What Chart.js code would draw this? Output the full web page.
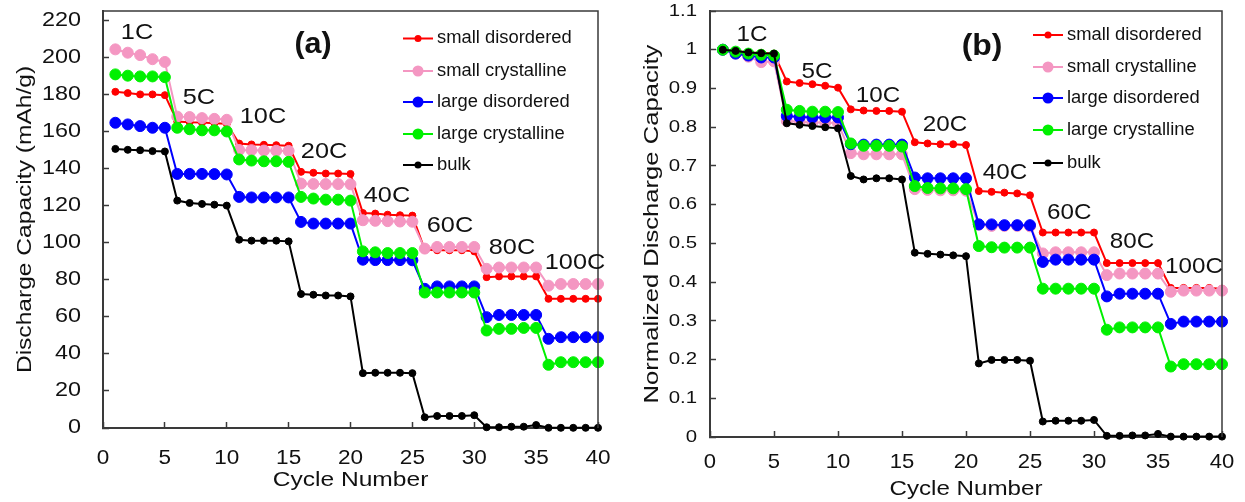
<!DOCTYPE html>
<html>
<head>
<meta charset="utf-8">
<script src="https://cdn.jsdelivr.net/npm/chart.js@4.4.1/dist/chart.umd.min.js"></script>
<style>
    html, body { margin: 0; padding: 0; background: #fff; }
    #wrap { position: relative; width: 1245px; height: 502px; overflow: hidden; }
    #capacityChart { position: absolute; left: 0; top: 0; }
    #normalizedChart { position: absolute; left: 620px; top: 0; }
</style>
</head>
<body>
<div id="wrap">
    <canvas id="capacityChart" width="620" height="502"></canvas>
    <canvas id="normalizedChart" width="625" height="502"></canvas>
</div>
<script>
// Cycle numbers (5 cycles per rate)
const cycles = [1, 2, 3, 4, 5, 6, 7, 8, 9, 10, 11, 12, 13, 14, 15, 16, 17, 18, 19, 20,
    21, 22, 23, 24, 25, 26, 27, 28, 29, 30, 31, 32, 33, 34, 35, 36, 37, 38, 39, 40];
const rateLabels = ['1C', '5C', '10C', '20C', '40C', '60C', '80C', '100C'];
const seriesNames = ['small disordered', 'small crystalline', 'large disordered', 'large crystalline', 'bulk'];

// Discharge capacity (mAh/g)
const smallDisordered = [181.4, 180.7, 180.0, 180.0, 179.6, 165.4, 165.0, 164.8, 164.5, 164.2,
    153.5, 153.0, 152.8, 152.6, 152.3, 138.2, 137.7, 137.3, 137.3, 137.1,
    116.0, 115.7, 115.1, 114.8, 114.6, 96.2, 95.9, 95.9, 95.9, 95.3,
    81.4, 81.8, 81.8, 81.8, 81.8, 69.7, 69.7, 69.7, 69.7, 69.7];
const smallCrystalline = [204.3, 202.5, 201.2, 199.0, 197.5, 168.0, 167.8, 167.2, 166.8, 166.3,
    150.0, 149.9, 149.7, 149.6, 149.5, 131.9, 131.7, 131.6, 131.6, 131.5,
    112.1, 111.8, 111.6, 111.4, 111.3, 96.8, 97.7, 97.7, 97.7, 97.7,
    85.9, 86.6, 86.6, 86.6, 86.6, 76.8, 77.7, 77.7, 77.7, 77.7];
const largeDisordered = [164.7, 163.8, 162.9, 162.0, 162.0, 137.1, 137.1, 137.1, 137.0, 136.8,
    124.7, 124.4, 124.4, 124.4, 124.4, 111.2, 110.3, 110.3, 110.3, 110.3,
    90.8, 90.6, 90.6, 90.6, 90.5, 75.1, 76.4, 76.4, 76.4, 76.4,
    59.8, 61.0, 61.0, 61.0, 61.0, 48.1, 49.0, 49.0, 49.0, 49.0];
const largeCrystalline = [190.8, 190.1, 189.7, 189.7, 189.3, 162.0, 161.2, 160.6, 160.6, 160.0,
    144.9, 144.3, 143.9, 143.9, 143.6, 124.7, 123.8, 123.2, 123.2, 122.7,
    95.3, 94.8, 94.4, 94.4, 94.4, 73.1, 73.1, 73.1, 73.1, 73.1,
    52.6, 53.5, 53.5, 54.0, 54.0, 34.1, 35.5, 35.5, 35.5, 35.5];
const bulk = [150.6, 150.1, 149.9, 149.4, 149.2, 122.7, 121.4, 120.9, 120.5, 120.0,
    101.6, 101.1, 101.1, 101.1, 100.7, 72.3, 71.9, 71.5, 71.5, 71.0,
    29.6, 29.8, 29.8, 29.8, 29.6, 5.8, 6.5, 6.5, 6.5, 6.9,
    0.4, 0.4, 0.7, 0.7, 1.6, 0.1, 0.1, 0.1, 0.1, 0.1];

// Normalized discharge capacity
const smallDisorderedNorm = [1.0, 0.997, 0.993, 0.992, 0.990, 0.918, 0.914, 0.911, 0.907, 0.902,
    0.846, 0.843, 0.842, 0.842, 0.840, 0.761, 0.758, 0.756, 0.756, 0.754,
    0.635, 0.633, 0.631, 0.629, 0.624, 0.528, 0.528, 0.528, 0.528, 0.528,
    0.449, 0.449, 0.449, 0.449, 0.449, 0.385, 0.385, 0.385, 0.385, 0.383];
const smallCrystallineNorm = [1.0, 0.990, 0.982, 0.968, 0.970, 0.816, 0.814, 0.812, 0.812, 0.810,
    0.733, 0.730, 0.730, 0.730, 0.730, 0.640, 0.638, 0.637, 0.637, 0.636,
    0.548, 0.545, 0.545, 0.545, 0.544, 0.474, 0.477, 0.477, 0.477, 0.477,
    0.418, 0.422, 0.422, 0.422, 0.422, 0.375, 0.378, 0.378, 0.378, 0.378];
const largeDisorderedNorm = [1.0, 0.990, 0.985, 0.980, 0.980, 0.829, 0.826, 0.825, 0.825, 0.825,
    0.756, 0.755, 0.755, 0.755, 0.755, 0.670, 0.668, 0.668, 0.668, 0.668,
    0.549, 0.549, 0.547, 0.547, 0.547, 0.452, 0.458, 0.458, 0.458, 0.458,
    0.363, 0.370, 0.370, 0.370, 0.370, 0.292, 0.298, 0.298, 0.298, 0.298];
const largeCrystallineNorm = [1.0, 0.995, 0.990, 0.987, 0.985, 0.845, 0.842, 0.840, 0.840, 0.839,
    0.758, 0.752, 0.752, 0.752, 0.750, 0.648, 0.643, 0.642, 0.642, 0.640,
    0.493, 0.490, 0.489, 0.489, 0.489, 0.383, 0.383, 0.383, 0.383, 0.383,
    0.277, 0.283, 0.283, 0.283, 0.283, 0.182, 0.188, 0.188, 0.188, 0.188];
const bulkNorm = [1.0, 0.997, 0.993, 0.991, 0.990, 0.810, 0.806, 0.803, 0.800, 0.797,
    0.674, 0.665, 0.668, 0.668, 0.665, 0.476, 0.473, 0.471, 0.469, 0.467,
    0.190, 0.199, 0.199, 0.199, 0.197, 0.040, 0.042, 0.042, 0.042, 0.044,
    0.003, 0.003, 0.004, 0.004, 0.008, 0.001, 0.001, 0.001, 0.001, 0.001];

// Tick values
const cycleTicks = [0, 5, 10, 15, 20, 25, 30, 35, 40];
const capacityTicks = [0, 20, 40, 60, 80, 100, 120, 140, 160, 180, 200, 220];
const normTicks = [0, 0.1, 0.2, 0.3, 0.4, 0.5, 0.6, 0.7, 0.8, 0.9, 1, 1.1];

// Series styles
const seriesStyles = [
    { color: '#FF0000', radius: 3.5 },
    { color: '#F497C2', radius: 5.5 },
    { color: '#0000FF', radius: 5.5 },
    { color: '#00F000', radius: 5.5 },
    { color: '#000000', radius: 3.5 }
];

const FONT = '"Liberation Sans", Arial, sans-serif';
const AXIS_COLOR = '#3a3a3a';

// Draws text with an optional horizontal stretch
function drawText(ctx, text, x, y, o) {
    ctx.save();
    ctx.translate(x, y);
    if (o.rotate) ctx.rotate(o.rotate);
    ctx.scale(o.sx || 1, 1);
    ctx.font = (o.bold ? 'bold ' : '') + o.size + 'px ' + FONT;
    ctx.fillStyle = o.color || '#111';
    ctx.textAlign = o.align || 'center';
    ctx.textBaseline = 'middle';
    ctx.fillText(text, 0, 0);
    ctx.restore();
}

function buildDatasets(valueLists) {
    return valueLists.map((values, i) => ({
        label: seriesNames[i],
        data: cycles.map((c, k) => ({ x: c, y: values[k] })),
        borderColor: seriesStyles[i].color,
        backgroundColor: seriesStyles[i].color,
        pointBackgroundColor: seriesStyles[i].color,
        pointBorderColor: seriesStyles[i].color,
        pointRadius: seriesStyles[i].radius,
        pointBorderWidth: 1,
        borderWidth: 2,
        tension: 0,
        clip: false,
        // later series drawn on top
        order: valueLists.length - 1 - i
    }));
}

// Frame, tick labels, titles, rate labels and legend
const decorPlugin = {
    id: 'decor',
    afterDraw(chart, args, opts) {
        const ctx = chart.ctx;
        const area = chart.chartArea;
        const xs = chart.scales.x;
        const ys = chart.scales.y;

        // top and right frame lines
        ctx.save();
        ctx.strokeStyle = AXIS_COLOR;
        ctx.lineWidth = 1.5;
        ctx.beginPath();
        ctx.moveTo(area.left, area.top);
        ctx.lineTo(area.right, area.top);
        ctx.lineTo(area.right, area.bottom);
        ctx.stroke();
        ctx.restore();

        // tick labels
        ys.ticks.forEach(t => {
            drawText(ctx, String(t.value), opts.yTick.x, ys.getPixelForValue(t.value), opts.yTick);
        });
        xs.ticks.forEach(t => {
            drawText(ctx, String(t.value), xs.getPixelForValue(t.value), opts.xTick.y, opts.xTick);
        });

        // axis titles
        drawText(ctx, opts.xTitle.text, (area.left + area.right) / 2, opts.xTitle.y, opts.xTitle);
        drawText(ctx, opts.yTitle.text, opts.yTitle.x, (area.top + area.bottom) / 2,
            Object.assign({ rotate: -Math.PI / 2 }, opts.yTitle));

        // panel letter
        drawText(ctx, opts.panel.text, opts.panel.x, opts.panel.y, opts.panel);

        // C-rate labels
        rateLabels.forEach((label, i) => {
            const p = opts.rates.at[i];
            drawText(ctx, label, xs.getPixelForValue(p[0]), ys.getPixelForValue(p[1]), opts.rates);
        });

        // legend
        const lg = opts.legend;
        chart.data.datasets.forEach((ds, i) => {
            const y = lg.rows[i];
            ctx.save();
            ctx.strokeStyle = ds.borderColor;
            ctx.lineWidth = 2;
            ctx.beginPath();
            ctx.moveTo(lg.x, y);
            ctx.lineTo(lg.x + 30, y);
            ctx.stroke();
            ctx.fillStyle = ds.pointBackgroundColor;
            ctx.beginPath();
            ctx.arc(lg.x + 15, y, ds.pointRadius, 0, Math.PI * 2);
            ctx.fill();
            ctx.restore();
            drawText(ctx, ds.label, lg.x + 34, y, { size: lg.size, sx: lg.sx, align: 'left' });
        });
    }
};

function axisOptions(tickValues, min, max, isY) {
    return {
        type: 'linear',
        min: min,
        max: max,
        afterBuildTicks: (scale) => {
            scale.ticks = tickValues.map(v => ({ value: v }));
        },
        afterFit: (scale) => {
            if (isY) scale.width = 0; else scale.height = 0;
        },
        ticks: { display: false },
        grid: {
            drawOnChartArea: false,
            drawTicks: true,
            tickLength: -6,
            tickColor: AXIS_COLOR,
            tickWidth: 1.5
        },
        border: { display: true, color: AXIS_COLOR, width: 2 }
    };
}

function createChart(canvasId, valueLists, yTicks, yMax, padding, decor) {
    const ctx = document.getElementById(canvasId);
    return new Chart(ctx, {
        type: 'line',
        data: { datasets: buildDatasets(valueLists) },
        options: {
            responsive: false,
            animation: false,
            devicePixelRatio: 1,
            layout: { padding: padding },
            plugins: {
                legend: { display: false },
                tooltip: { enabled: false },
                decor: decor
            },
            scales: {
                x: axisOptions(cycleTicks, 0, 40, false),
                y: axisOptions(yTicks, 0, yMax, true)
            }
        },
        plugins: [decorPlugin]
    });
}

// (a) absolute capacity
createChart('capacityChart',
    [smallDisordered, smallCrystalline, largeDisordered, largeCrystalline, bulk],
    capacityTicks, 225,
    { left: 103, right: 22, top: 11, bottom: 74 },
    {
        yTick: { x: 81, size: 19.5, sx: 1.2, align: 'right' },
        xTick: { y: 458, size: 20.5, sx: 1.1 },
        xTitle: { text: 'Cycle Number', y: 480, size: 21, sx: 1.17 },
        yTitle: { text: 'Discharge Capacity (mAh/g)', x: 25, size: 21, sx: 1.17 },
        panel: { text: '(a)', x: 313, y: 45, size: 29, sx: 1.05, bold: true },
        rates: {
            size: 22, sx: 1.15,
            at: [[2.75, 213.2], [7.75, 178.0], [12.93, 167.8], [17.86, 148.9],
                 [22.95, 125.2], [28.04, 109.0], [33.05, 97.1], [38.14, 89.0]]
        },
        legend: { x: 403, rows: [38.5, 71, 102, 134, 165], size: 17.5, sx: 1.05 }
    });

// (b) normalized capacity
createChart('normalizedChart',
    [smallDisorderedNorm, smallCrystallineNorm, largeDisorderedNorm, largeCrystallineNorm, bulkNorm],
    normTicks, 1.1,
    { left: 90, right: 23, top: 11, bottom: 65 },
    {
        yTick: { x: 77, size: 17, sx: 1.2, align: 'right' },
        xTick: { y: 462, size: 21, sx: 1.05 },
        xTitle: { text: 'Cycle Number', y: 489, size: 21, sx: 1.15 },
        yTitle: { text: 'Normalized Discharge Capacity', x: 32, size: 21, sx: 1.22 },
        panel: { text: '(b)', x: 362, y: 47, size: 29, sx: 1.1, bold: true },
        rates: {
            size: 22, sx: 1.1,
            at: [[3.28, 1.039], [8.36, 0.943], [13.13, 0.881], [18.36, 0.806],
                 [23.05, 0.682], [28.07, 0.579], [32.97, 0.504], [37.81, 0.439]]
        },
        legend: { x: 413, rows: [35, 67, 98, 130, 163], size: 17.5, sx: 1.05 }
    });
</script>
</body>
</html>
